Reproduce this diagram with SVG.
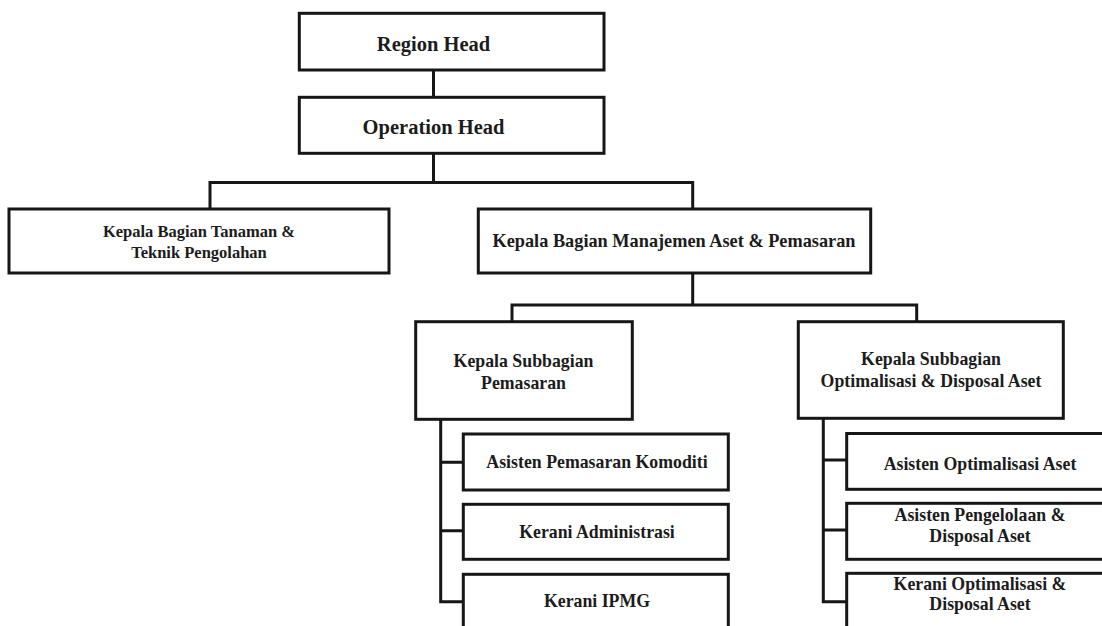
<svg xmlns="http://www.w3.org/2000/svg" width="1102" height="626" viewBox="0 0 1102 626">
  <style>
    .box { fill: #ffffff; stroke: #161616; stroke-width: 3; }
    .conn { fill: none; stroke: #161616; stroke-width: 3; stroke-linejoin: miter; }
    text { font-family: 'Liberation Serif', 'DejaVu Serif', serif; font-weight: bold; fill: #1c1c1c; text-anchor: middle; }
    .t1 { font-size: 20.5px; }
    .t2 { font-size: 17.8px; }
    .t3 { font-size: 16.5px; }
    .t4 { font-size: 18.3px; }
  </style>
  <rect x="0" y="0" width="1102" height="626" fill="#ffffff"/>
  <g id="connectors">
    <path class="conn" d="M433.5 70 V97"/>
    <path class="conn" d="M433.5 153 V182.5 M210 209 V182.5 H692.7 V209"/>
    <path class="conn" d="M692.7 273 V305 M512 321.7 V305 H916.7 V321.7"/>
    <path class="conn" d="M440.7 419.3 V601.7 H463.3 M440.7 462.3 H463.3 M440.7 530.7 H463.3"/>
    <path class="conn" d="M823.3 418.3 V601.7 H846.7 M823.3 460 H846.7 M823.3 530 H846.7"/>
  </g>
  <g id="region-head">
    <rect class="box" x="299.3" y="13.3" width="304.7" height="56.7"/>
    <text class="t1" x="433.5" y="51">Region Head</text>
  </g>
  <g id="operation-head">
    <rect class="box" x="299.3" y="97.3" width="304.7" height="56"/>
    <text class="t1" x="433.5" y="134">Operation Head</text>
  </g>
  <g id="kabag-tanaman">
    <rect class="box" x="9" y="209" width="380" height="64"/>
    <text class="t3" x="199" y="237">Kepala Bagian Tanaman &amp;</text>
    <text class="t3" x="199" y="258">Teknik Pengolahan</text>
  </g>
  <g id="kabag-manajemen">
    <rect class="box" x="478.3" y="209" width="392.4" height="64"/>
    <text class="t4" x="674" y="247">Kepala Bagian Manajemen Aset &amp; Pemasaran</text>
  </g>
  <g id="kasub-pemasaran">
    <rect class="box" x="415.7" y="321.7" width="216.6" height="97.6"/>
    <text class="t2" x="523.5" y="367">Kepala Subbagian</text>
    <text class="t2" x="523.5" y="389">Pemasaran</text>
  </g>
  <g id="kasub-optimalisasi">
    <rect class="box" x="798.3" y="321.7" width="265" height="96.6"/>
    <text class="t2" x="931" y="365">Kepala Subbagian</text>
    <text class="t2" x="931" y="387">Optimalisasi &amp; Disposal Aset</text>
  </g>
  <g id="asisten-pemasaran">
    <rect class="box" x="463.3" y="434" width="265" height="56"/>
    <text class="t2" x="597" y="468.3">Asisten Pemasaran Komoditi</text>
  </g>
  <g id="kerani-administrasi">
    <rect class="box" x="463.3" y="504.3" width="265" height="55"/>
    <text class="t2" x="597" y="538.3">Kerani Administrasi</text>
  </g>
  <g id="kerani-ipmg">
    <rect class="box" x="463.3" y="574.3" width="265" height="70"/>
    <text class="t2" x="597" y="607.3">Kerani IPMG</text>
  </g>
  <g id="asisten-optimalisasi">
    <rect class="box" x="846.7" y="433.5" width="265" height="55.8"/>
    <text class="t2" x="980" y="470">Asisten Optimalisasi Aset</text>
  </g>
  <g id="asisten-pengelolaan">
    <rect class="box" x="846.7" y="503.3" width="265" height="56"/>
    <text class="t2" x="980" y="521">Asisten Pengelolaan &amp;</text>
    <text class="t2" x="980" y="541.7">Disposal Aset</text>
  </g>
  <g id="kerani-optimalisasi">
    <rect class="box" x="846.7" y="573.3" width="265" height="70"/>
    <text class="t2" x="980" y="590">Kerani Optimalisasi &amp;</text>
    <text class="t2" x="980" y="610">Disposal Aset</text>
  </g>
</svg>
